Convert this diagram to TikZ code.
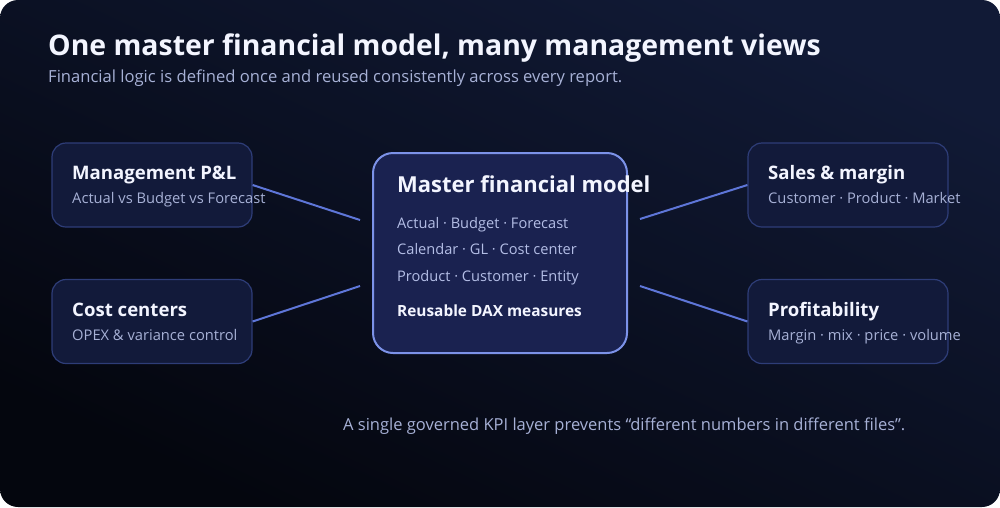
\documentclass[tikz,border=0pt]{standalone}
\usepackage{fontspec}
\setmainfont{Open Sans}
\definecolor{bgA}{HTML}{111A36}
\definecolor{bgB}{HTML}{04060E}
\definecolor{boxfill}{HTML}{121A3A}
\definecolor{boxline}{HTML}{2E3D78}
\definecolor{mfill}{HTML}{1A2250}
\definecolor{mline}{HTML}{7C92E8}
\definecolor{conn}{HTML}{5E76D8}
\definecolor{titlec}{HTML}{F3F5FF}
\definecolor{subc}{HTML}{A7B1D6}
\definecolor{mtext}{HTML}{B4BEE6}
\tikzset{
  viewbox/.style={draw=boxline, line width=1.2pt, fill=boxfill, rounded corners=14pt, minimum width=200pt, minimum height=84pt, inner sep=0pt},
  masterbox/.style={draw=mline, line width=2pt, fill=mfill, rounded corners=20pt, minimum width=254pt, minimum height=200pt, inner sep=0pt},
  txt/.style={anchor=base west, inner sep=0pt},
  btitle/.style={txt, text=titlec, font=\fontsize{18.6}{22}\selectfont\bfseries},
  bsub/.style={txt, text=subc, font=\fontsize{14.7}{17}\selectfont},
  mline/.style={txt, text=mtext, font=\fontsize{14.6}{17}\selectfont},
  link/.style={draw=conn, line width=2pt},
}
\begin{document}
\begin{tikzpicture}[x=1pt,y=-1pt]
\useasboundingbox (0,0) rectangle (1000,507);
\shade[rounded corners=18pt, left color=bgA, right color=bgB, shading angle=-25] (0,0) rectangle (1000,507);

\node[txt, text=titlec, font=\fontsize{28.4}{32}\selectfont\bfseries] (title) at (48,55) {One master financial model, many management views};
\node[txt, text=subc, font=\fontsize{16.6}{19}\selectfont] (subtitle) at (48,82) {Financial logic is defined once and reused consistently across every report.};

\node[viewbox] (mgmt) at (152,185) {};
\node[viewbox] (cost) at (152,321.5) {};
\node[viewbox] (sales) at (848,185) {};
\node[viewbox] (profit) at (848,321.5) {};
\node[masterbox] (master) at (500,253) {};

\coordinate (mL1) at (360,220);
\coordinate (mL2) at (360,286);
\coordinate (mR1) at (640,219);
\coordinate (mR2) at (640,286);
\draw[link] (mgmt.east) -- (mL1);
\draw[link] (cost.east) -- (mL2);
\draw[link] (sales.west) -- (mR1);
\draw[link] (profit.west) -- (mR2);

\node[btitle] (t1) at (72,179) {Management P\&L};
\node[bsub] (s1) at (72,203) {Actual vs Budget vs Forecast};
\node[btitle] (t2) at (72,316) {Cost centers};
\node[bsub] (s2) at (72,340) {OPEX \& variance control};
\node[btitle] (t3) at (768,179) {Sales \& margin};
\node[bsub] (s3) at (768,203) {Customer · Product · Market};
\node[btitle] (t4) at (768,316) {Profitability};
\node[bsub] (s4) at (768,340) {Margin · mix · price · volume};

\node[txt, text=titlec, font=\fontsize{22}{26}\selectfont\bfseries] (mt) at (397,192) {Master financial model};
\node[mline] (m1) at (397,228) {Actual · Budget · Forecast};
\node[mline] (m2) at (397,254) {Calendar · GL · Cost center};
\node[mline] (m3) at (397,281) {Product · Customer · Entity};
\node[txt, text=titlec, font=\fontsize{15.4}{18}\selectfont\bfseries] (m4) at (397,316) {Reusable DAX measures};

\node[txt, text=subc, font=\fontsize{16.5}{19}\selectfont] (foot) at (343,430) {A single governed KPI layer prevents “different numbers in different files”.};
\end{tikzpicture}
\end{document}
